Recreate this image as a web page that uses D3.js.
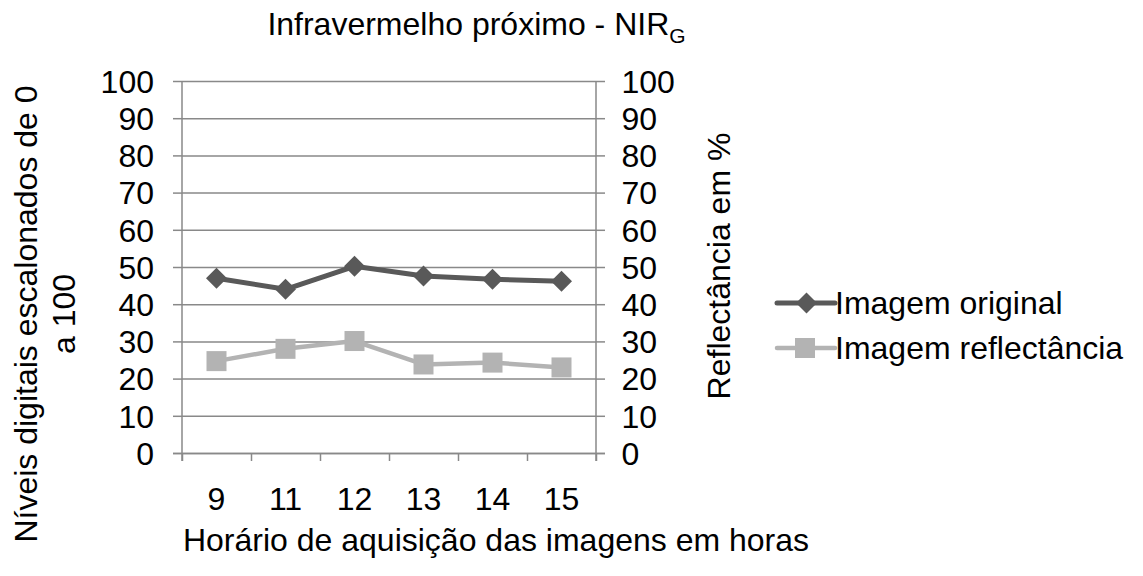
<!DOCTYPE html>
<html>
<head>
<meta charset="utf-8">
<script src="https://cdn.jsdelivr.net/npm/d3@7"></script>
<style>
  body { margin: 0; background: #fff; }
  svg { display: block; }
  text { font-family: "Liberation Sans", Arial, sans-serif; fill: #000; }
</style>
</head>
<body>
<svg id="chart" width="1143" height="576"></svg>
<script>
const categories = ["9", "11", "12", "13", "14", "15"];
const original = [47, 44, 50.2, 47.6, 46.7, 46.2];
const reflectance = [24.7, 28, 30.1, 23.8, 24.3, 23];
const yTicks = [0, 10, 20, 30, 40, 50, 60, 70, 80, 90, 100];
const seriesNames = ["Imagem original", "Imagem reflectância"];

(function () {
const svg = d3.select("#chart");
const pL = 182, pR = 596, pT = 81, pB = 453;
const fs = 32;

const x = d3.scaleBand().domain(categories).range([pL, pR]);
const xb = d3.scaleLinear().domain([0, categories.length]).range([pL, pR]);
const y = d3.scaleLinear().domain([0, 100]).range([pB, pT]);

const gridColor = "#898989";

svg.append("g")
  .attr("transform", `translate(${pL},0)`)
  .call(d3.axisLeft(y).tickValues(yTicks).tickSize(-(pR - pL)).tickFormat(""))
  .call(g => g.select(".domain").remove())
  .call(g => g.selectAll("line").attr("stroke", gridColor).attr("stroke-width", 1.5));

svg.append("g")
  .attr("transform", `translate(${pL},0)`)
  .call(d3.axisLeft(y).tickValues(yTicks).tickSize(9).tickPadding(19))
  .call(g => g.select(".domain").remove())
  .call(g => g.selectAll("line").attr("stroke", gridColor).attr("stroke-width", 1.5))
  .call(g => g.selectAll("text").style("font-size", fs + "px").attr("fill", "#000").attr("dy", "0.35em"));

svg.append("g")
  .attr("transform", `translate(${pR},0)`)
  .call(d3.axisRight(y).tickValues(yTicks).tickSize(9).tickPadding(16.5))
  .call(g => g.select(".domain").remove())
  .call(g => g.selectAll("line").attr("stroke", gridColor).attr("stroke-width", 1.5))
  .call(g => g.selectAll("text").style("font-size", fs + "px").attr("fill", "#000").attr("dy", "0.35em"));

svg.append("line").attr("x1", pL).attr("x2", pL).attr("y1", pT).attr("y2", pB + 8)
  .attr("stroke", gridColor).attr("stroke-width", 1.5);
svg.append("line").attr("x1", pR).attr("x2", pR).attr("y1", pT).attr("y2", pB + 8)
  .attr("stroke", gridColor).attr("stroke-width", 1.5);

svg.append("g")
  .attr("transform", `translate(0,${pB})`)
  .call(d3.axisBottom(xb).tickValues(d3.range(categories.length + 1)).tickSize(8).tickFormat(""))
  .call(g => g.select(".domain").attr("stroke", gridColor).attr("stroke-width", 1.5)
               .attr("d", `M${pL - 9},0.5H${pR + 9}`))
  .call(g => g.selectAll("line").attr("stroke", gridColor).attr("stroke-width", 1.5));

svg.append("g")
  .attr("transform", `translate(0,${pB})`)
  .call(d3.axisBottom(x).tickSize(0).tickPadding(34))
  .call(g => g.select(".domain").remove())
  .call(g => g.selectAll("text").style("font-size", fs + "px").attr("fill", "#000"));

const line = d3.line().x((d, i) => x(categories[i]) + x.bandwidth() / 2).y(d => y(d));
const colO = "#595959", colR = "#b3b3b3";

svg.append("path").datum(original).attr("d", line).attr("fill", "none")
  .attr("stroke", colO).attr("stroke-width", 5).attr("stroke-linejoin", "round");
svg.append("path").datum(reflectance).attr("d", line).attr("fill", "none")
  .attr("stroke", colR).attr("stroke-width", 4.5).attr("stroke-linejoin", "round");

const diamond = s => `M0,${-s}L${s},0L0,${s}L${-s},0Z`;
svg.append("g").selectAll("path").data(original).join("path")
  .attr("d", diamond(10.5))
  .attr("transform", (d, i) => `translate(${x(categories[i]) + x.bandwidth() / 2},${y(d)})`)
  .attr("fill", colO);
svg.append("g").selectAll("rect").data(reflectance).join("rect")
  .attr("x", (d, i) => x(categories[i]) + x.bandwidth() / 2 - 10)
  .attr("y", d => y(d) - 10)
  .attr("width", 20).attr("height", 20).attr("fill", colR);

const t = svg.append("text").attr("x", 476.5).attr("y", 35).attr("text-anchor", "middle")
  .style("font-size", fs + "px");
t.append("tspan").text("Infravermelho próximo - NIR");
t.append("tspan").text("G").style("font-size", "21px").attr("dy", 8);

svg.append("text").attr("x", 496).attr("y", 551).attr("text-anchor", "middle")
  .style("font-size", fs + "px").text("Horário de aquisição das imagens em horas");

const lt = svg.append("text").attr("transform", "translate(0,314) rotate(-90)")
  .attr("text-anchor", "middle").style("font-size", fs + "px");
lt.append("tspan").attr("x", 0).attr("y", 37).text("Níveis digitais escalonados de 0");
lt.append("tspan").attr("x", 0).attr("y", 75).text("a 100");

svg.append("text").attr("transform", "translate(730,266) rotate(-90)")
  .attr("text-anchor", "middle").style("font-size", fs + "px").text("Reflectância em %");

const legY = [303, 348];
const legCols = [colO, colR];
const lg = svg.append("g");
seriesNames.forEach((name, i) => {
  lg.append("line").attr("x1", 777).attr("x2", 835).attr("y1", legY[i]).attr("y2", legY[i])
    .attr("stroke", legCols[i]).attr("stroke-width", i === 0 ? 5 : 4.5).attr("stroke-linecap", "round");
  if (i === 0) {
    lg.append("path").attr("d", diamond(10.5)).attr("transform", `translate(806.5,${legY[i]})`).attr("fill", legCols[i]);
  } else {
    lg.append("rect").attr("x", 795).attr("y", legY[i] - 10).attr("width", 20).attr("height", 20).attr("fill", legCols[i]);
  }
  lg.append("text").attr("x", 835).attr("y", legY[i]).attr("dy", "0.35em")
    .style("font-size", fs + "px").text(name);
});
})();
</script>
</body>
</html>
